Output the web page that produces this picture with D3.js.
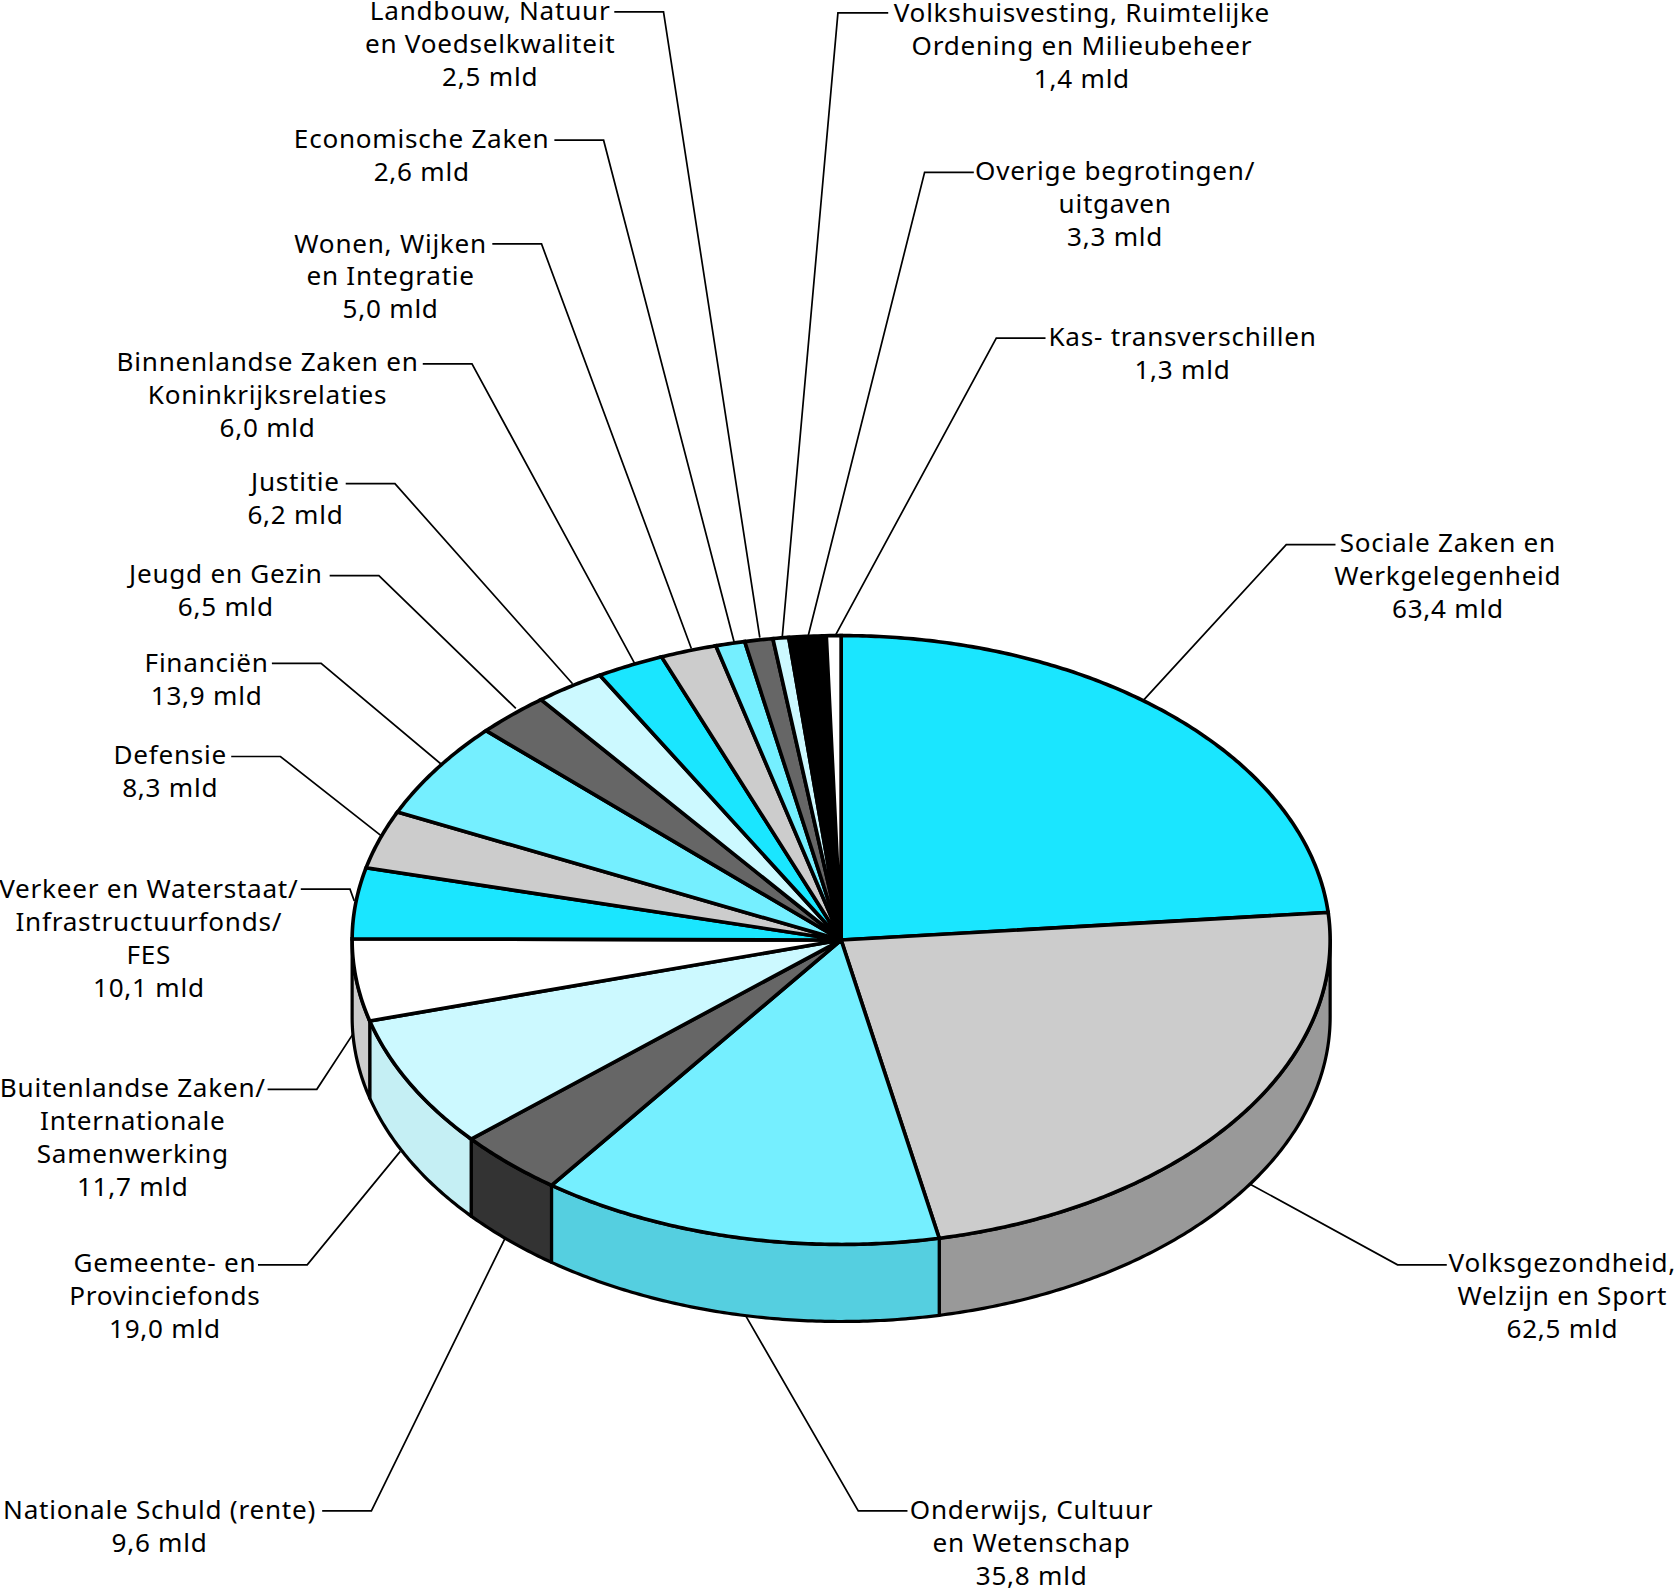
<!DOCTYPE html>
<html>
<head>
<meta charset="utf-8">
<script src="https://cdnjs.cloudflare.com/ajax/libs/d3/7.8.5/d3.min.js"></script>
<style>
  html, body { margin: 0; padding: 0; background: #fff; }
  svg { display: block; }
  text { font-family: "Noto Sans", "Liberation Sans", sans-serif; font-size: 24.4px; letter-spacing: 0.7px; fill: #000; text-anchor: middle; }
</style>
</head>
<body>
<div id="chart"></div>
<script>
// begroting, in mld euro, clockwise from the top
var categories = [
  "Sociale Zaken en|Werkgelegenheid",
  "Volksgezondheid,|Welzijn en Sport",
  "Onderwijs, Cultuur|en Wetenschap",
  "Nationale Schuld (rente)",
  "Gemeente- en|Provinciefonds",
  "Buitenlandse Zaken/|Internationale|Samenwerking",
  "Verkeer en Waterstaat/|Infrastructuurfonds/|FES",
  "Defensie",
  "Financiën",
  "Jeugd en Gezin",
  "Justitie",
  "Binnenlandse Zaken en|Koninkrijksrelaties",
  "Wonen, Wijken|en Integratie",
  "Economische Zaken",
  "Landbouw, Natuur|en Voedselkwaliteit",
  "Volkshuisvesting, Ruimtelijke|Ordening en Milieubeheer",
  "Overige begrotingen/|uitgaven",
  "Kas- transverschillen"
];
var values = [63.4, 62.5, 35.8, 9.6, 19.0, 11.7, 10.1, 8.3, 13.9, 6.5, 6.2, 6.0, 5.0, 2.6, 2.5, 1.4, 3.3, 1.3];

var topColors = ["#1ae6ff", "#cccccc", "#75efff", "#666666", "#ccf9ff", "#ffffff", "#1ae6ff", "#cccccc", "#75efff",
                 "#666666", "#ccf9ff", "#1ae6ff", "#cccccc", "#75efff", "#666666", "#ccf9ff", "#000000", "#ffffff"];
var sideColors = ["#14adbf", "#999999", "#55cfe0", "#333333", "#c5eff4", "#cccccc", "#14adbf", "#999999", "#55cfe0",
                  "#333333", "#c5eff4", "#14adbf", "#999999", "#55cfe0", "#333333", "#c5eff4", "#000000", "#cccccc"];

// layout, in the coordinates of the viewBox below
var labelX = [1353, 1460, 964, 149, 154, 124, 139, 159, 193, 211, 276, 250, 365, 394, 458, 1011, 1042, 1105];
var labelY = [516, 1189, 1420, 1420, 1189, 1025.5, 839, 714, 628, 545, 459, 347, 236, 138, 19, 21, 168, 323];
var leaders = [
  [[1248, 509], [1202, 509], [1068, 655]],
  [[1352, 1182], [1306, 1182], [1167, 1106]],
  [[848, 1412], [802, 1412], [697, 1230]],
  [[301, 1412], [347, 1412], [472, 1157]],
  [[241, 1182], [287, 1182], [374, 1076]],
  [[250, 1018], [296, 1018], [330, 966]],
  [[281, 831], [327, 831], [331, 842]],
  [[216, 707], [262, 707], [356, 781]],
  [[254, 620], [300, 620], [412, 714]],
  [[308, 538], [354, 538], [482, 662]],
  [[323, 452], [369, 452], [535, 639]],
  [[395, 340], [441, 340], [593, 620]],
  [[460, 228], [506, 228], [646, 606]],
  [[518, 131], [564, 131], [686, 600]],
  [[574, 11], [620, 11], [710, 596]],
  [[830, 12], [783, 12], [731, 595]],
  [[910, 161], [864, 161], [755, 595]],
  [[977, 316], [931, 316], [780, 595]]
];

var cx = 786, cy = 878.5, rx = 457, ry = 284.5, depth = 72;

var svg = d3.select("#chart").append("svg")
    .attr("width", 1678)
    .attr("height", 1589)
    .attr("viewBox", "0 0 1568 1485");

var pie = d3.pie().sort(null).startAngle(0).endAngle(2 * Math.PI);
var slices = pie(values);

var line = d3.line();

function rim(a, dy) {
  return [cx + rx * Math.sin(a), cy - ry * Math.cos(a) + (dy || 0)];
}

// points along the rim from a0 to a1
function arcPoints(a0, a1, dy) {
  var n = Math.max(2, Math.ceil((a1 - a0) * 180 / Math.PI * 2));
  return d3.range(n + 1).map(function(i) {
    return rim(a0 + (a1 - a0) * i / n, dy);
  });
}

// side walls only show on the front half
var front = slices.filter(function(d) {
  return d.endAngle > Math.PI / 2 && d.startAngle < 3 * Math.PI / 2;
});

svg.append("g").selectAll("path")
  .data(front)
  .enter().append("path")
    .attr("fill", function(d) { return sideColors[d.index]; })
    .attr("stroke", "#000")
    .attr("stroke-width", 3)
    .attr("stroke-linejoin", "round")
    .attr("d", function(d) {
      var a0 = Math.max(d.startAngle, Math.PI / 2);
      var a1 = Math.min(d.endAngle, 3 * Math.PI / 2);
      return line(arcPoints(a0, a1, 0).concat(arcPoints(a0, a1, depth).reverse())) + "Z";
    });

svg.append("g").selectAll("path")
  .data(slices)
  .enter().append("path")
    .attr("fill", function(d) { return topColors[d.index]; })
    .attr("stroke", "#000")
    .attr("stroke-width", 3.4)
    .attr("stroke-linejoin", "miter")
    .attr("d", function(d) {
      return line([[cx, cy]].concat(arcPoints(d.startAngle, d.endAngle, 0))) + "Z";
    });

svg.append("g").selectAll("path")
  .data(leaders)
  .enter().append("path")
    .attr("fill", "none")
    .attr("stroke", "#000")
    .attr("stroke-width", 1.6)
    .attr("d", function(d) { return line(d); });

var label = svg.append("g").selectAll("text")
  .data(categories)
  .enter().append("text")
    .attr("x", function(d, i) { return labelX[i]; })
    .attr("y", function(d, i) { return labelY[i]; });

label.each(function(d, i) {
  var lines = d.split("|").concat(values[i].toFixed(1).replace(".", ",") + " mld");
  d3.select(this).selectAll("tspan")
    .data(lines)
    .enter().append("tspan")
      .attr("x", labelX[i])
      .attr("dy", function(l, j) { return j ? 30.8 : 0; })
      .text(function(l) { return l; });
});
</script>
</body>
</html>
